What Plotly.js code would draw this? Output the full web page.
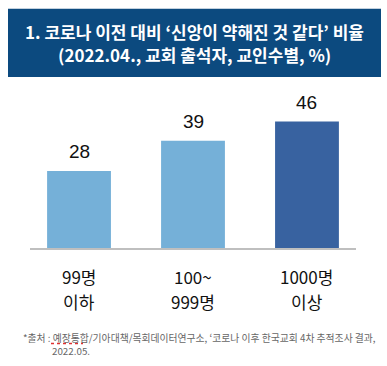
<!DOCTYPE html>
<html><head><meta charset="utf-8">
<script src="https://cdn.plot.ly/plotly-3.0.1.min.js"></script>
<style>html,body{margin:0;padding:0;background:#fff}#c{width:387px;height:366px}</style>
</head><body><div id="c"></div>
<script>
const categories = ['99명<br>이하', '100~<br>999명', '1000명<br>이상'];
const values = [28, 39, 46];
const barColors = ['#75b0d8', '#75b0d8', '#3862a0'];
const titleLines = ['1. 코로나 이전 대비 ‘신앙이 약해진 것 같다’ 비율', '(2022.04., 교회 출석자, 교인수별, %)'];
const sourceLines = ['*출처 : 예장통합/기아대책/목회데이터연구소, ‘코로나 이후 한국교회 4차 추적조사 결과,', '2022.05.'];

const FONT = '"Noto Sans CJK KR", "Noto Sans", sans-serif';
const W = 326, H = 157.7, L = 30, B = 247.7;
const px = x => (x - L) / W;
const py = y => (B - y) / H;

const annotations = values.map((v, i) => ({
  x: categories[i], y: v, xref: 'x', yref: 'y', text: String(v), showarrow: false,
  yanchor: 'bottom', yshift: 7, font: {family: 'Liberation Sans, Arial, sans-serif', size: 19, color: '#111'}
}));
// category labels, two lines each
categories.forEach(c => {
  const parts = c.split('<br>');
  const ys = [276, 301];
  parts.forEach((p, k) => annotations.push({
    x: c, xref: 'x', yref: 'paper', y: py(ys[k]), text: p, showarrow: false,
    xanchor: 'center', yanchor: 'middle', font: {family: FONT, size: 17, color: '#111'}
  }));
});
const titleYs = [32, 54.5];
titleLines.forEach((t, k) => annotations.push({
  xref: 'paper', yref: 'paper', x: px(194), y: py(titleYs[k]), text: '<b>' + t + '</b>',
  showarrow: false, xanchor: 'center', yanchor: 'middle',
  font: {family: FONT, size: 17, color: '#fff'}
}));
annotations.push({
  xref: 'paper', yref: 'paper', x: px(21), y: py(338), text: sourceLines[0],
  showarrow: false, xanchor: 'left', yanchor: 'middle', font: {family: FONT, size: 9.8, color: '#666'}
});
annotations.push({
  xref: 'paper', yref: 'paper', x: px(49.5), y: py(350.5), text: sourceLines[1],
  showarrow: false, xanchor: 'left', yanchor: 'middle', font: {family: FONT, size: 9.8, color: '#666'}
});

const data = [{
  type: 'bar', x: categories, y: values, marker: {color: barColors}, width: 0.56,
  hoverinfo: 'skip'
}];

const layout = {
  width: 387, height: 366,
  margin: {l: 30, r: 31, t: 90, b: 118.3},
  paper_bgcolor: '#fff', plot_bgcolor: '#fff',
  showlegend: false,
  xaxis: {range: [-0.43, 2.43], showline: true, linecolor: '#bfbfbf', linewidth: 1.5,
    showticklabels: false, ticks: '', fixedrange: true},
  yaxis: {range: [0, 57.5], visible: false, showgrid: false, zeroline: false},
  shapes: [
    {type: 'rect', xref: 'paper', yref: 'paper', x0: px(8), x1: px(381), y0: py(77), y1: py(9),
     fillcolor: '#0c4a7f', line: {width: 0}, layer: 'below'},
    {type: 'line', xref: 'paper', yref: 'paper', x0: px(51), x1: px(83), y0: py(343), y1: py(343),
     line: {color: '#e03030', width: 1.3, dash: 'dot'}}
  ],
  annotations: annotations
};
Plotly.newPlot('c', data, layout, {displayModeBar: false, staticPlot: true});
</script></body></html>
